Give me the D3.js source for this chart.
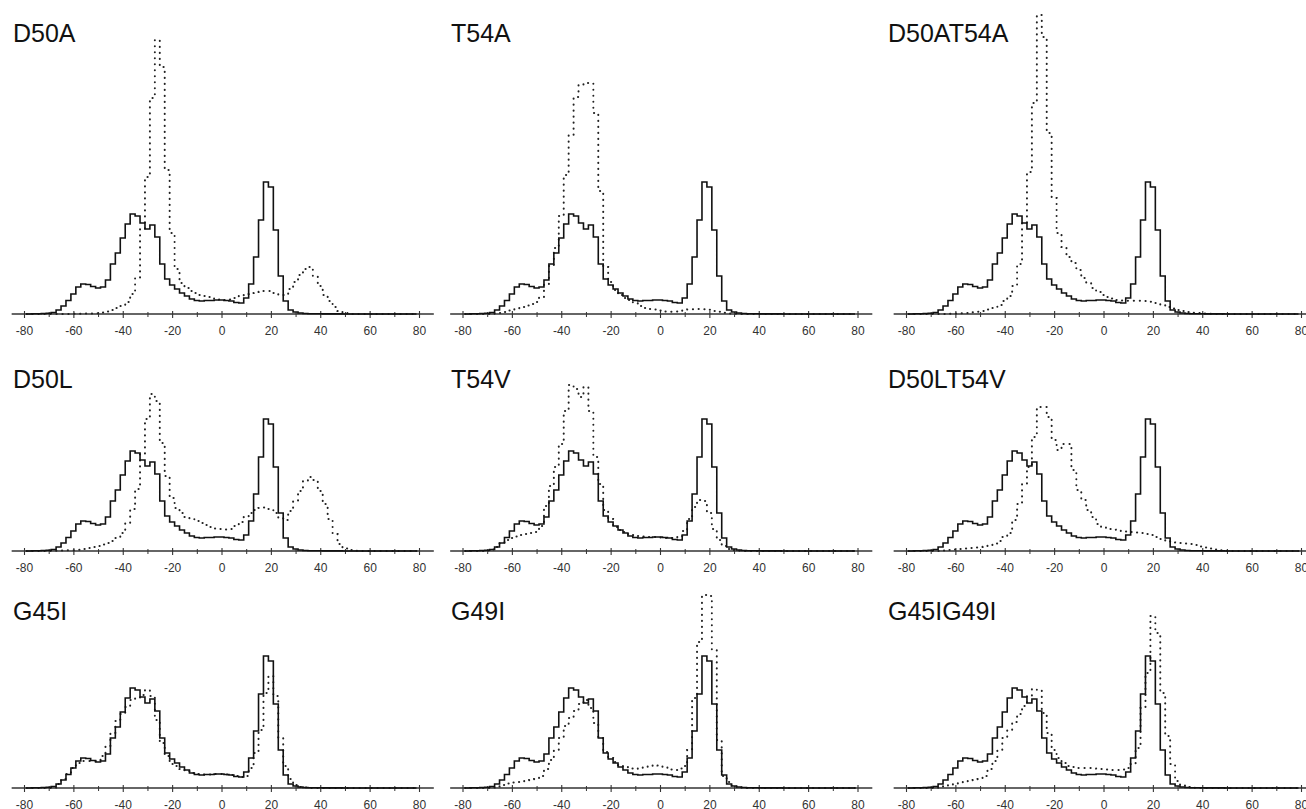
<!DOCTYPE html>
<html lang="en">
<head>
  <meta charset="UTF-8">
  <title>Histograms</title>
  <script src="https://d3js.org/d3.v7.min.js"></script>
  <style>
    body { margin: 0; background: #fff; }
    svg { display: block; font-family: "Liberation Sans", Arial, sans-serif; }
  </style>
</head>
<body>
<svg id="chart" width="1306" height="809"></svg>

<script>
  // bin centres (2 degree bins)
  var bins = [-78, -76, -74, -72, -70, -68, -66, -64, -62, -60,
              -58, -56, -54, -52, -50, -48, -46, -44, -42, -40,
              -38, -36, -34, -32, -30, -28, -26, -24, -22, -20,
              -18, -16, -14, -12, -10, -8, -6, -4, -2, 0,
              2, 4, 6, 8, 10, 12, 14, 16, 18, 20,
              22, 24, 26, 28, 30, 32, 34, 36, 38, 40,
              42, 44, 46, 48, 50, 52, 54, 56, 58, 60,
              62, 64, 66, 68, 70, 72, 74, 76, 78];

  // solid line, same in every panel
  var wildType = [0, 0.02, 0.03, 0.05, 0.08, 0.15, 0.4, 0.8, 1.35, 2.0,
                  2.7, 3.0, 2.95, 2.75, 2.6, 2.7, 3.4, 5.0, 6.1, 7.6,
                  9.0, 10.0, 9.8, 9.1, 8.5, 8.9, 7.7, 5.0, 3.5, 2.9,
                  2.5, 2.1, 1.8, 1.5, 1.35, 1.3, 1.35, 1.35, 1.4, 1.4,
                  1.35, 1.3, 1.15, 1.1, 1.6, 3.0, 5.7, 9.4, 13.2, 12.7,
                  8.4, 3.8, 1.3, 0.4, 0.2, 0.1, 0.05, 0.03, 0.02, 0.02,
                  0.01, 0.01, 0.01, 0.01, 0, 0, 0, 0, 0, 0,
                  0, 0, 0, 0, 0, 0, 0, 0, 0];

  // dotted lines, one per mutant
  var d50a = [0, 0, 0, 0, 0, 0, 0, 0, 0.01, 0.02,
              0.03, 0.04, 0.05, 0.06, 0.08, 0.15, 0.25, 0.4, 0.6, 0.8,
              1.2, 2.0, 3.6, 8.5, 13.7, 21.6, 27.4, 24.7, 14.4, 8.1,
              4.5, 3.1, 2.6, 2.3, 2.1, 1.9, 1.8, 1.7, 1.5, 1.45,
              1.4, 1.45, 1.6, 1.8, 2.0, 2.1, 2.2, 2.25, 2.3, 2.3,
              2.1, 1.9, 1.9, 2.5, 3.2, 3.9, 4.5, 4.7, 3.8, 2.8,
              1.9, 1.3, 0.7, 0.3, 0.1, 0.03, 0.01, 0, 0, 0,
              0, 0, 0, 0, 0, 0, 0, 0, 0];

  var t54a = [0, 0, 0, 0, 0, 0, 0.05, 0.1, 0.2, 0.35,
              0.5, 0.7, 0.85, 1.0, 1.2, 1.7, 3.0, 4.8, 6.6, 9.8,
              13.9, 17.9, 21.7, 22.9, 23.1, 23.1, 20.1, 12.3, 4.7, 3.2,
              2.4, 1.9, 1.6, 1.4, 1.1, 0.8, 0.6, 0.5, 0.45, 0.35,
              0.25, 0.23, 0.25, 0.32, 0.4, 0.45, 0.47, 0.5, 0.48, 0.42,
              0.3, 0.22, 0.12, 0.05, 0.02, 0, 0, 0, 0, 0,
              0, 0, 0, 0, 0, 0, 0, 0, 0, 0,
              0, 0, 0, 0, 0, 0, 0, 0, 0];

  var d50at54a = [0, 0, 0, 0, 0, 0, 0, 0, 0.03, 0.06,
                  0.08, 0.11, 0.14, 0.18, 0.23, 0.3, 0.45, 0.6, 0.9, 1.3,
                  1.8, 2.8, 5.0, 9.1, 14.2, 21.1, 29.9, 27.7, 18.1, 11.6,
                  8.1, 6.7, 5.7, 5.1, 4.4, 3.6, 3.1, 2.6, 2.2, 1.9,
                  1.7, 1.55, 1.4, 1.35, 1.33, 1.33, 1.33, 1.33, 1.3, 1.23,
                  1.1, 0.9, 0.7, 0.55, 0.4, 0.3, 0.2, 0.13, 0.1, 0.06,
                  0.04, 0.02, 0, 0, 0, 0, 0, 0, 0, 0,
                  0, 0, 0, 0, 0, 0, 0, 0, 0];

  var d50l = [0, 0, 0, 0, 0, 0, 0.03, 0.05, 0.07, 0.08,
              0.12, 0.2, 0.3, 0.4, 0.5, 0.65, 0.8, 1.0, 1.3, 1.8,
              2.8, 4.2, 6.2, 9.7, 13.2, 15.7, 15.0, 10.8, 7.5, 5.3,
              4.3, 3.8, 3.4, 3.2, 3.0, 2.8, 2.6, 2.4, 2.25, 2.2,
              2.15, 2.2, 2.5, 2.9, 3.4, 3.8, 4.1, 4.3, 4.35, 4.2,
              3.8, 3.3, 3.1, 4.0, 5.0, 6.0, 7.0, 7.4, 7.1, 6.0,
              4.7, 3.2, 1.7, 0.7, 0.25, 0.1, 0.03, 0, 0, 0,
              0, 0, 0, 0, 0, 0, 0, 0, 0];

  var t54v = [0, 0, 0, 0, 0.05, 0.15, 0.4, 0.8, 1.1, 1.3,
              1.45, 1.6, 1.7, 1.8, 1.9, 2.5, 4.5, 6.5, 8.4, 10.7,
              14.0, 16.6, 16.2, 15.4, 16.4, 14.0, 9.4, 6.7, 4.1, 3.2,
              2.4, 2.1, 1.9, 1.7, 1.6, 1.5, 1.45, 1.4, 1.4, 1.35,
              1.3, 1.3, 1.3, 1.4, 2.0, 3.2, 4.4, 5.1, 5.0, 3.8,
              2.2, 1.1, 0.5, 0.2, 0.08, 0.03, 0, 0, 0, 0,
              0, 0, 0, 0, 0, 0, 0, 0, 0, 0,
              0, 0, 0, 0, 0, 0, 0, 0, 0];

  var d50lt54v = [0, 0, 0, 0, 0, 0, 0, 0.05, 0.1, 0.15,
                  0.2, 0.25, 0.3, 0.35, 0.4, 0.5, 0.6, 0.75, 1.0, 1.4,
                  1.8, 3.1, 4.7, 6.7, 8.4, 11.4, 14.4, 14.4, 13.4, 11.1,
                  10.1, 10.7, 10.7, 8.1, 6.1, 5.1, 4.1, 3.4, 2.7, 2.4,
                  2.2, 2.13, 2.07, 2.0, 1.95, 1.9, 1.85, 1.8, 1.7, 1.6,
                  1.4, 1.2, 1.0, 0.85, 0.8, 0.8, 0.75, 0.7, 0.6, 0.45,
                  0.35, 0.25, 0.15, 0.08, 0.03, 0, 0, 0, 0, 0,
                  0, 0, 0, 0, 0, 0, 0, 0, 0];

  var g45i = [0, 0, 0, 0, 0, 0.05, 0.4, 0.9, 1.4, 2.0,
              2.5, 2.7, 2.7, 2.7, 2.8, 3.2, 4.2, 5.5, 6.7, 7.4,
              8.1, 8.8, 9.0, 9.3, 9.8, 9.2, 6.8, 4.5, 3.2, 2.4,
              2.2, 1.9, 1.7, 1.5, 1.4, 1.35, 1.35, 1.35, 1.4, 1.4,
              1.35, 1.3, 1.2, 1.1, 1.2, 2.0, 3.5, 5.8, 9.5, 11.2,
              9.2, 5.0, 2.2, 0.9, 0.3, 0.1, 0.05, 0, 0, 0,
              0, 0, 0, 0, 0, 0, 0, 0, 0, 0,
              0, 0, 0, 0, 0, 0, 0, 0, 0];

  var g49i = [0, 0, 0, 0, 0, 0.05, 0.15, 0.3, 0.45, 0.55,
              0.6, 0.65, 0.7, 0.8, 0.9, 1.2, 1.9, 2.8, 3.8, 5.0,
              6.2, 7.0, 7.7, 8.4, 8.8, 8.0, 6.5, 5.0, 3.6, 3.0,
              2.6, 2.3, 2.1, 1.95, 1.9, 1.95, 2.1, 2.2, 2.3, 2.25,
              2.1, 1.85, 1.8, 1.95, 2.2, 3.8, 9.0, 14.6, 19.3, 19.2,
              13.8, 4.8, 1.2, 0.6, 0.25, 0.1, 0.05, 0, 0, 0,
              0, 0, 0, 0, 0, 0, 0, 0, 0, 0,
              0, 0, 0, 0, 0, 0, 0, 0, 0];

  var g45ig49i = [0, 0, 0, 0, 0, 0, 0.1, 0.2, 0.3, 0.4,
                  0.5, 0.65, 0.75, 0.8, 0.9, 1.2, 1.9, 2.7, 3.8, 5.0,
                  5.8, 6.6, 7.4, 8.2, 9.2, 9.9, 9.8, 7.5, 5.5, 3.8,
                  3.0, 2.5, 2.2, 2.1, 2.0, 2.0, 2.0, 2.0, 1.95, 1.9,
                  1.85, 1.8, 1.8, 1.85, 2.0, 2.4, 4.0, 8.0, 11.5, 17.2,
                  15.5, 9.5, 5.2, 2.4, 0.7, 0.25, 0.1, 0.05, 0, 0,
                  0, 0, 0, 0, 0, 0, 0, 0, 0, 0,
                  0, 0, 0, 0, 0, 0, 0, 0, 0];

  var panelNames = ["D50A", "T54A", "D50AT54A",
                    "D50L", "T54V", "D50LT54V",
                    "G45I", "G49I", "G45IG49I"];
  var panelSeries = [d50a, t54a, d50at54a, d50l, t54v, d50lt54v, g45i, g49i, g45ig49i];

  var majorTicks = [-80, -60, -40, -20, 0, 20, 40, 60, 80];
  var minorTicks = [-70, -50, -30, -10, 10, 30, 50, 70];

  // layout of the 3x3 grid
  var colLeft = [24, 462.5, 906];       // pixel of x = -80 in each column
  var plotWidth = 395;
  var rowBase = [314, 551, 788];        // axis line of each row
  var titleBase = [42, 388, 620];
  var titleLeft = [13, 451, 888];

  var svg = d3.select("#chart");

  var y = d3.scaleLinear().domain([0, 30]).range([0, -300]);
  var binHalf = 1;

  panelNames.forEach(function (name, i) {
    var row = Math.floor(i / 3), col = i % 3;

    var x = d3.scaleLinear().domain([-80, 80]).range([0, plotWidth]);

    var g = svg.append("g")
      .attr("transform", "translate(" + colLeft[col] + "," + rowBase[row] + ")");

    // axis line, a bit longer than the labelled range
    g.append("line")
      .attr("x1", x(-85)).attr("x2", x(86))
      .attr("y1", 0).attr("y2", 0)
      .attr("stroke", "#333").attr("stroke-width", 1.3);

    var major = g.append("g")
      .call(d3.axisBottom(x).tickValues(majorTicks).tickSize(4).tickPadding(8)
        .tickFormat(function (d) { return String(d); }));
    major.select(".domain").remove();
    major.selectAll(".tick line").attr("y1", -3).attr("stroke", "#333").attr("stroke-width", 1.1);
    major.selectAll(".tick text")
      .style("font-size", "12px")
      .style("font-family", "'Liberation Sans', Arial, sans-serif")
      .attr("fill", "#333");

    var minor = g.append("g")
      .call(d3.axisBottom(x).tickValues(minorTicks).tickSize(3).tickFormat(""));
    minor.select(".domain").remove();
    minor.selectAll(".tick line").attr("y1", -2).attr("stroke", "#333").attr("stroke-width", 1);

    // histogram outlines as step lines
    var line = d3.line()
      .x(function (d) { return x(d[0]); })
      .y(function (d) { return y(d[1]); })
      .curve(d3.curveStepAfter);

    function steps(values) {
      var pts = bins.map(function (b, k) { return [b - binHalf, values[k]]; });
      pts.push([bins[bins.length - 1] + binHalf, values[values.length - 1]]);
      return pts;
    }

    g.append("path")
      .datum(steps(panelSeries[i]))
      .attr("d", line)
      .attr("fill", "none")
      .attr("stroke", "#222")
      .attr("stroke-width", 2)
      .attr("stroke-linecap", "round")
      .attr("stroke-dasharray", "0.2 5.8");

    g.append("path")
      .datum(steps(wildType))
      .attr("d", line)
      .attr("fill", "none")
      .attr("stroke", "#111")
      .attr("stroke-width", 1.6);

    svg.append("text")
      .attr("x", titleLeft[col])
      .attr("y", titleBase[row])
      .attr("font-size", "25px")
      .attr("fill", "#111")
      .text(name);
  });
</script>
</body>
</html>
